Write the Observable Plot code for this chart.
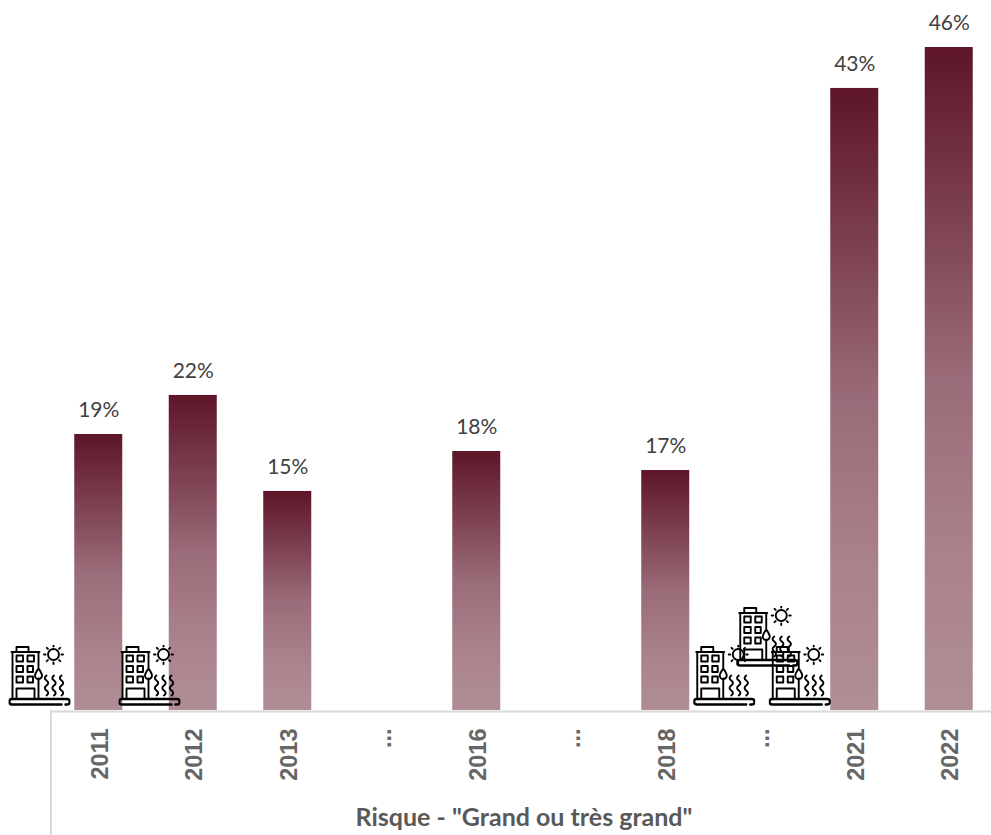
<!DOCTYPE html>
<html>
<head>
<meta charset="utf-8">
<script src="https://cdn.jsdelivr.net/npm/d3@7"></script>
<script src="https://cdn.jsdelivr.net/npm/@observablehq/plot@0.6"></script>
<style>html,body{margin:0;padding:0;background:#fff}svg{display:block}
[aria-label="x-axis tick label"] text{font-weight:700;font-family:"Liberation Sans",sans-serif}</style>
</head>
<body>
<div id="chart"></div>
<script>
const categories = ["2011","2012","2013","…a","2016","…b","2018","…c","2021","2022"];
const values = [19.15,21.86,15.2,null,17.97,null,16.65,null,43.16,46];
const valueLabels = ["19%","22%","15%",null,"18%",null,"17%",null,"43%","46%"];
const axisTitle = 'Risque - "Grand ou très grand"';

const rows = categories.map((c,i)=>({c, v:values[i], t:valueLabels[i]})).filter(d=>d.v!=null);

const wave = x => `M${x} 31q-3.400 2.500 0 5t0 5t0 5t0 5`;
const iconSvg = `<svg xmlns="http://www.w3.org/2000/svg" viewBox="0 0 62 62" width="62" height="62">
<g fill="none" stroke="#000" stroke-width="1.900" stroke-linecap="round" stroke-linejoin="round">
<path d="M4 54V7.500H30V23M30 34V54M3 7.500H31M8 7V2.500H20V7"/>
<rect x="8" y="11" width="6.500" height="6"/><rect x="19" y="11" width="6.500" height="6"/>
<rect x="8" y="21.500" width="6.500" height="6"/><rect x="19" y="21.500" width="5.500" height="6"/>
<rect x="8" y="32" width="6.500" height="6"/><rect x="19" y="32" width="5.500" height="6"/>
<path d="M8 54V44H26V54"/>
<path d="M30 24c-2 3-3.500 5-3.500 7a3.500 3.500 0 0 0 7 0c0-2-1.500-4-3.500-7z"/>
<circle cx="45" cy="10" r="5.500"/>
<path d="M45 0.500V2M45 18V19.500M35.500 10H37M53 10H54.500M38.300 3.300L39.400 4.400M50.600 15.600L51.700 16.700M51.700 3.300L50.600 4.400M39.400 15.600L38.300 16.700"/>
<path d="${wave(38)}"/><path d="${wave(45.500)}"/><path d="${wave(53)}"/>
<path d="M53 60H3.500a2.300 2.300 0 0 1 0-5.500H58.500a2.300 2.300 0 0 1 0 5.500H57" stroke-width="2.400"/>
</g></svg>`;
const iconSrc = "data:image/svg+xml;charset=utf-8," + encodeURIComponent(iconSvg);
const icon = (c, dx, dy) => Plot.image([c], {
  x: d => d, y: () => 0, src: () => iconSrc, width: 62, height: 62, dx, dy
});

const gradient = () => {
  const defs = d3.create("svg:defs");
  const g = defs.append("linearGradient").attr("id","barFade")
    .attr("x1",0).attr("y1",0).attr("x2",0).attr("y2",1);
  [["0%","#5e1528"],["50%","#9a6b78"],["77%","#aa828c"],["100%","#b08e96"]].forEach(([o,c]) =>
    g.append("stop").attr("offset",o).attr("stop-color",c));
  return defs.node();
};
const leftAxisLine = (index, scales, values, dims) =>
  d3.create("svg:line")
    .attr("x1", dims.marginLeft).attr("x2", dims.marginLeft)
    .attr("y1", scales.y(0)).attr("y2", dims.height)
    .attr("stroke","#d9d9d9").attr("stroke-width",2).node();

const chart = Plot.plot({
  width: 991, height: 835,
  marginLeft: 51, marginRight: -5, marginTop: 47, marginBottom: 125,
  style: {background:"#fff", fontFamily:"Lato, sans-serif", overflow:"hidden"},
  x: {domain: categories, paddingInner: 0.492, paddingOuter: 0.246, round:false},
  y: {domain: [0,46], axis: null},
  marks: [
    gradient,
    Plot.barY(rows, {x:"c", y:"v", fill:"url(#barFade)"}),
    Plot.ruleY([0], {stroke:"#d9d9d9", strokeWidth:2, dy:1}),
    leftAxisLine,
    Plot.axisX({
      tickSize: 0, tickRotate: -90, tickPadding: 18, dx: 1.5,
      tickFormat: d => d.startsWith("…") ? "..." : d,
      fontSize: 23.5, color: "#666",
      label: null
    }),
    Plot.text([axisTitle], {
      frameAnchor:"bottom", text: d=>d, dy: 115,
      fontSize: 25, fontWeight: 700, fill:"#595959"
    }),
    Plot.text(rows, {
      x:"c", y:"v", text:"t", dy:-24,
      fontSize: 21, fill:"#404040"
    }),
    icon("2011", -59.25, -35),
    icon("2012", -43.75, -35),
    icon("…c", -36, -35),
    icon("…c", 39.5, -35),
    icon("…c", 7, -74)
  ]
});
document.getElementById("chart").appendChild(chart);
</script>
</body>
</html>
